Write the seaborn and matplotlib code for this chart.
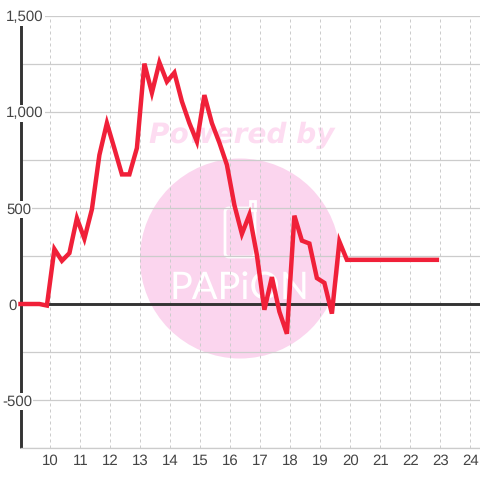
import numpy as np
import pandas as pd
import matplotlib
matplotlib.use('Agg')
import matplotlib.pyplot as plt
import seaborn as sns
from matplotlib.patches import Circle, FancyBboxPatch, Rectangle
from matplotlib.transforms import IdentityTransform

hours = [9.0, 9.13, 9.38, 9.63, 9.88, 10.13, 10.38, 10.63, 10.88, 11.13, 11.38, 11.63, 11.88,
         12.13, 12.38, 12.63, 12.88, 13.13, 13.38, 13.63, 13.88, 14.13, 14.38, 14.63, 14.88,
         15.13, 15.38, 15.63, 15.88, 16.13, 16.38, 16.63, 16.88, 17.13, 17.38, 17.63, 17.88,
         18.13, 18.38, 18.63, 18.88, 19.13, 19.38, 19.63, 19.88, 20.13, 20.38, 20.63, 20.88,
         21.13, 21.38, 21.63, 21.88, 22.13, 22.38, 22.63, 22.88]
values = [0, 0, 0, 0, -8, 286, 225, 265, 447, 340, 493, 776, 942,
          810, 675, 675, 812, 1252, 1100, 1258, 1158, 1205, 1055, 942, 846,
          1088, 942, 840, 725, 515, 365, 465, 255, -30, 140, -40, -155,
          460, 330, 315, 135, 110, -50, 325, 230, 230, 230, 230, 230,
          230, 230, 230, 230, 230, 230, 230, 230]
x_ticks = [10, 11, 12, 13, 14, 15, 16, 17, 18, 19, 20, 21, 22, 23, 24]
y_grid = [-750, -500, -250, 0, 250, 500, 750, 1000, 1250, 1500]
y_labels = ['1,500', '1,000', '500', '0', '-500']
y_label_values = [1500, 1000, 500, 0, -500]
y_label_left = [6, 6, 6, 8, 2]

df = pd.DataFrame({'hour': hours, 'value': values})

sns.set_style('white')
plt.rcParams['font.family'] = ['Liberation Sans', 'DejaVu Sans']
plt.rcParams['text.hinting'] = 'none'
plt.rcParams['text.hinting_factor'] = 1

fig = plt.figure(figsize=(4.8, 4.8), dpi=100)
ax = fig.add_axes([20.5 / 480, 32 / 480, 459.5 / 480, 432 / 480])
ax.set_xlim(9, 24.317)
ax.set_ylim(-750, 1500)
ax.patch.set_alpha(0)

# watermark, pixel coords
wm = '#fbd5ee'
ax.add_patch(Circle((240, 221.5), 100, transform=IdentityTransform(), color=wm, lw=0, zorder=0.1))
ax.add_patch(FancyBboxPatch((225, 223), 30, 49, boxstyle='round,pad=0,rounding_size=4',
                            transform=IdentityTransform(), fc='none', ec='white', lw=2, zorder=0.2))
ax.add_patch(Rectangle((250, 270), 5, 9, transform=IdentityTransform(), fc=wm, ec='white', lw=2, zorder=0.2))
fig.text(242 / 480, 344.5 / 480, 'Powered by', color='#fddcf1', fontsize=20.5, family='DejaVu Sans',
         weight='bold', style='italic', ha='center', va='center', zorder=-1)
ax.text(239 / 480, 191 / 480, 'PAPiON', transform=fig.transFigure, color='white', fontsize=27,
        family='Lato', ha='center', va='center', zorder=0.2)

ax.set_axisbelow(True)
ax.set_yticks(y_grid)
ax.set_xticks(x_ticks)
ax.grid(axis='y', color='#cccccc', lw=0.9, ls='-')
ax.grid(axis='x', color='#cccccc', lw=0.72, ls=(0, (3, 3)))
ax.tick_params(axis='y', length=0, labelleft=False)
ax.tick_params(axis='x', length=0, labelsize=10.8, labelcolor='#444444', pad=4.5)

for s in ['top', 'right']:
    ax.spines[s].set_visible(False)
ax.spines['bottom'].set_color('#cccccc')
ax.spines['bottom'].set_linewidth(0.9)
ax.spines['left'].set_color('#333333')
ax.spines['left'].set_linewidth(2.1)
ax.spines['left'].set_capstyle('butt')
ax.axhline(0, color='#333333', lw=2.1, zorder=2)

sns.lineplot(data=df, x='hour', y='value', color='#f02039', lw=3.2, sort=False, estimator=None,
             errorbar=None, ax=ax, zorder=3, clip_on=False, solid_capstyle='projecting',
             solid_joinstyle='miter')
ax.set_xlabel('')
ax.set_ylabel('')

for lab, val, left in zip(y_labels, y_label_values, y_label_left):
    ax.annotate(lab, xy=(0, val), xycoords=ax.get_yaxis_transform(),
                xytext=((left - 20.5) * 0.72, 0), textcoords='offset points',
                ha='left', va='center_baseline', fontsize=10.8, color='#444444', zorder=6,
                annotation_clip=False,
                bbox=dict(fc='white', ec='none', pad=1.0))

fig.savefig('out.png', dpi=100)
